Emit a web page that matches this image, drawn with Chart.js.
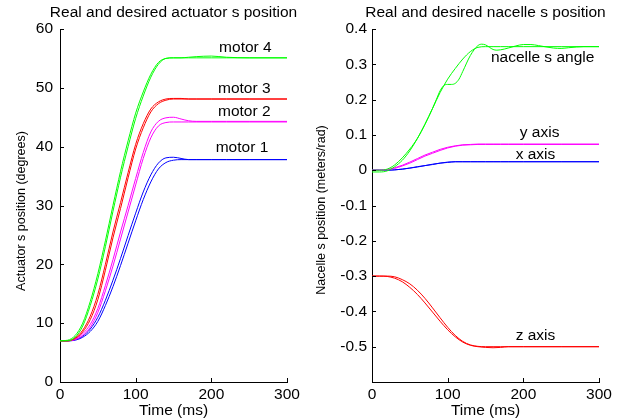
<!DOCTYPE html>
<html><head><meta charset="utf-8">
<script src="https://cdn.jsdelivr.net/npm/chart.js@4/dist/chart.umd.min.js"></script>
<style>
html,body{margin:0;padding:0;background:#fff;}
#wrap{position:relative;width:621px;height:420px;background:#fff;}
#c1{position:absolute;left:0;top:0;}
#c2{position:absolute;left:310px;top:0;}
</style></head><body>
<div id="wrap"><canvas id="c1" width="310" height="420"></canvas><canvas id="c2" width="311" height="420"></canvas></div>
<script>
// ---------- Left chart data (actuator positions, degrees) ----------
const timeLeft = [0,10,20,30,40,50,60,70,80,90,100,110,120,130,140,150,160,170,180,200,220,250,300];
const motor4Desired = [7,7,7.6,9.5,13,17.5,23,29,34.8,40,44.8,48.6,51.8,54,55,55.1,55.1,55.1,55.1,55.1,55.1,55.1,55.1];
const motor4Real    = [7,7.1,7.9,10,13.7,18.4,24,30,35.8,41,45.7,49.3,52.3,54.3,55,55.1,55.1,55.2,55.3,55.4,55.2,55.1,55.1];
const motor3Desired = [7,7,7.4,8.5,10.6,14,19,24.5,29.5,34.7,39.6,43.2,45.9,47.3,47.9,48.1,48.1,48.1,48.1,48.1,48.1,48.1,48.1];
const motor3Real    = [7,7,7.5,8.8,11.2,14.9,20,25.5,30.5,35.6,40.4,43.9,46.4,47.6,48.1,48.2,48.2,48.1,48.1,48.1,48.1,48.1,48.1];
const motor2Real    = [7,7,7.3,8.2,9.8,12.5,16.4,20.8,25.5,30,34.6,39,42.5,44.3,44.9,45,44.7,44.4,44.3,44.3,44.3,44.3,44.3];
const motor2Desired = [7,7,7.2,7.9,9.3,11.8,15.5,19.7,24.3,28.9,33.5,38,41.5,43.5,44.1,44.2,44.2,44.2,44.2,44.2,44.2,44.2,44.2];
const motor1Real    = [7,7,7.2,7.8,9,11,13.9,17.3,21,24.9,28.7,32.3,35.2,37.2,38.1,38.2,38,37.8,37.8,37.8,37.8,37.8,37.8];
const motor1Desired = [7,7,7.1,7.6,8.6,10.3,13,16.2,19.8,23.6,27.4,31,34,36.2,37.3,37.7,37.8,37.8,37.8,37.8,37.8,37.8,37.8];
const leftYTicks = [0,10,20,30,40,50,60];
const xTicks = [0,100,200,300];

// ---------- Right chart data (nacelle position, meters/rad) ----------
const timeRight = [0,10,20,30,40,50,60,70,80,90,100,110,120,130,140,150,160,170,180,200,250,300];
const angleDesired = [0,0,0.003,0.015,0.035,0.06,0.09,0.13,0.175,0.22,0.258,0.288,0.315,0.336,0.348,0.35,0.35,0.35,0.35,0.35,0.35,0.35];
const timeAngleReal = [0,10,20,30,40,50,60,70,80,85,90,95,100,105,110,115,120,130,140,145,150,160,165,170,180,190,200,210,220,240,250,260,280,300];
const angleReal = [-0.005,-0.005,-0.002,0.01,0.028,0.055,0.09,0.13,0.175,0.2,0.225,0.24,0.243,0.243,0.246,0.258,0.28,0.325,0.353,0.357,0.355,0.342,0.34,0.341,0.346,0.352,0.356,0.356,0.353,0.346,0.345,0.347,0.35,0.35];
const yAxisDesired = [0,0,0.001,0.005,0.012,0.02,0.03,0.04,0.048,0.056,0.063,0.068,0.071,0.072,0.073,0.073,0.073,0.073,0.073,0.073,0.073,0.073];
const yAxisReal    = [0,0,0.002,0.007,0.014,0.023,0.033,0.043,0.051,0.059,0.065,0.069,0.072,0.073,0.074,0.074,0.074,0.074,0.074,0.074,0.074,0.074];
const xAxisDesired = [0,0,0,0.001,0.003,0.006,0.009,0.013,0.016,0.02,0.022,0.024,0.024,0.024,0.024,0.024,0.024,0.024,0.024,0.024,0.024,0.024];
const xAxisReal    = [0,0,0,0.001,0.003,0.006,0.01,0.013,0.017,0.02,0.023,0.024,0.024,0.024,0.024,0.024,0.024,0.024,0.024,0.024,0.024,0.024];
const zAxisReal    = [-0.3,-0.3,-0.301,-0.306,-0.316,-0.332,-0.352,-0.376,-0.402,-0.428,-0.452,-0.472,-0.487,-0.496,-0.5,-0.502,-0.503,-0.502,-0.5,-0.5,-0.5,-0.5];
const zAxisDesired = [-0.3,-0.3,-0.3,-0.302,-0.31,-0.322,-0.34,-0.363,-0.39,-0.418,-0.445,-0.468,-0.485,-0.495,-0.499,-0.5,-0.5,-0.5,-0.5,-0.5,-0.5,-0.5];
const rightYTicks = [-0.6,-0.5,-0.4,-0.3,-0.2,-0.1,0,0.1,0.2,0.3,0.4];

// ---------- Text ----------
const leftTitle = 'Real and desired actuator s position';
const rightTitle = 'Real and desired nacelle s position';
const leftYLabel = 'Actuator s position (degrees)';
const rightYLabel = 'Nacelle s position (meters/rad)';
const xLabel = 'Time (ms)';
const leftNotes = [{text:'motor 4',x:245,y:56.8},{text:'motor 3',x:243.5,y:49.8},{text:'motor 2',x:243.5,y:46},{text:'motor 1',x:240.5,y:39.9}];
const rightNotes = [{text:'nacelle s angle',x:225.5,y:0.320},{text:'y axis',x:221.5,y:0.105},{text:'x axis',x:216,y:0.045},{text:'z axis',x:216,y:-0.469}];

const FONT = '"Liberation Sans", Arial, Helvetica, sans-serif';
const GREEN='#00ff00', RED='#ff0000', MAG='#ff00ff', BLUE='#0000ff';

function pts(t, v){ return t.map((x,i)=>({x:x, y:v[i]})); }
function ds(t, v, c){ return {data:pts(t,v), borderColor:c, borderWidth:1, pointRadius:0, fill:false, cubicInterpolationMode:'monotone'}; }

const deco = {
  id:'deco',
  afterDraw(chart, args, opts){
    const {ctx, chartArea:a} = chart; const x = chart.scales.x, y = chart.scales.y;
    ctx.save();
    ctx.strokeStyle='#000'; ctx.lineWidth=1;
    ctx.beginPath();
    y.ticks.forEach(t=>{const p=Math.round(y.getPixelForValue(t.value))+0.5; ctx.moveTo(a.left,p); ctx.lineTo(a.left+4,p);});
    x.ticks.forEach(t=>{const p=Math.round(x.getPixelForValue(t.value))+0.5; ctx.moveTo(p,a.bottom); ctx.lineTo(p,a.bottom-4);});
    ctx.stroke();
    ctx.fillStyle='#000';
    ctx.textAlign='center'; ctx.textBaseline='middle';
    ctx.font = '15.5px ' + FONT;
    ctx.fillText(opts.title, (a.left+a.right)/2, 13);
    opts.notes.forEach(n=>ctx.fillText(n.text, x.getPixelForValue(n.x), y.getPixelForValue(n.y)));
    ctx.font = '12.5px ' + FONT;
    ctx.translate(opts.yTitleX, opts.yTitleY);
    ctx.rotate(-Math.PI/2);
    ctx.fillText(opts.yTitle, 0, 0);
    ctx.restore();
  }
};

function makeChart(id, datasets, yMin, yMax, yTicks, yFmt, yWidth, yPad, yTitle, yTitleX, yTitleY, rightPad, title, notes){
  return new Chart(document.getElementById(id), {
    type:'line',
    data:{datasets},
    options:{
      responsive:false, animation:false, devicePixelRatio:1,
      layout:{padding:{top:29,right:rightPad,left:0,bottom:0}},
      plugins:{legend:{display:false}, tooltip:{enabled:false}, deco:{title, notes, yTitle, yTitleX, yTitleY}},
      scales:{
        x:{type:'linear', min:0, max:300,
           afterBuildTicks:s=>{s.ticks = xTicks.map(v=>({value:v}));},
           afterFit:s=>{s.height=38;},
           grid:{display:true, drawOnChartArea:false, drawTicks:false},
           border:{display:true, color:'#000', width:1},
           ticks:{color:'#000', padding:3, font:{family:FONT,size:15.5}, maxRotation:0, autoSkip:false},
           title:{display:true, text:xLabel, color:'#000', font:{family:FONT,size:15.5}, padding:{top:0,bottom:0}}},
        y:{type:'linear', min:yMin, max:yMax,
           afterBuildTicks:s=>{s.ticks = yTicks.map(v=>({value:v}));},
           afterFit:s=>{s.width=yWidth;},
           grid:{display:true, drawOnChartArea:false, drawTicks:false},
           border:{display:true, color:'#000', width:1},
           ticks:{color:'#000', padding:yPad, font:{family:FONT,size:15.5}, autoSkip:false, callback:yFmt},
           title:{display:false}}
      }
    },
    plugins:[deco]
  });
}

makeChart('c1', [
  ds(timeLeft, motor4Desired, GREEN), ds(timeLeft, motor4Real, GREEN),
  ds(timeLeft, motor3Desired, RED), ds(timeLeft, motor3Real, RED),
  ds(timeLeft, motor2Desired, MAG), ds(timeLeft, motor2Real, MAG),
  ds(timeLeft, motor1Desired, BLUE), ds(timeLeft, motor1Real, BLUE)
], 0, 60, leftYTicks, v=>String(v), 60, 7, leftYLabel, 22, 211, 23, leftTitle, leftNotes);

makeChart('c2', [
  ds(timeRight, angleDesired, GREEN), ds(timeAngleReal, angleReal, GREEN),
  ds(timeRight, yAxisDesired, MAG), ds(timeRight, yAxisReal, MAG),
  ds(timeRight, xAxisDesired, BLUE), ds(timeRight, xAxisReal, BLUE),
  ds(timeRight, zAxisDesired, RED), ds(timeRight, zAxisReal, RED)
], -0.6, 0.4, rightYTicks, v=>(Math.abs(v+0.6)<1e-9 ? '' : String(Math.round(v*10)/10)), 62, 5, rightYLabel, 12, 210, 22, rightTitle, rightNotes);
</script>
</body></html>
